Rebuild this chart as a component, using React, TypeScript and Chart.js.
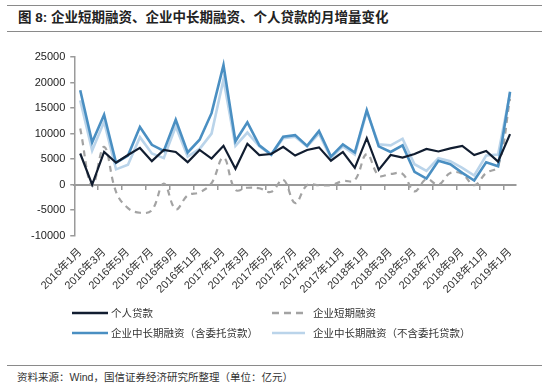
import React, { useEffect, useRef } from "react";
import { Chart, registerables } from "chart.js";

Chart.register(...registerables);

const monthLabels: string[] = [
  "2016年1月", "2016年2月", "2016年3月", "2016年4月", "2016年5月", "2016年6月",
  "2016年7月", "2016年8月", "2016年9月", "2016年10月", "2016年11月", "2016年12月",
  "2017年1月", "2017年2月", "2017年3月", "2017年4月", "2017年5月", "2017年6月",
  "2017年7月", "2017年8月", "2017年9月", "2017年10月", "2017年11月", "2017年12月",
  "2018年1月", "2018年2月", "2018年3月", "2018年4月", "2018年5月", "2018年6月",
  "2018年7月", "2018年8月", "2018年9月", "2018年10月", "2018年11月", "2018年12月",
  "2019年1月",
];

const personalLoans: number[] = [
  6100, 0, 6400, 4300, 5800, 7200, 4600, 6800, 6400, 4400, 6800, 5100,
  7600, 3100, 8000, 5800, 6000, 7400, 5700, 6800, 7300, 4700, 6400, 3300,
  9100, 2900, 5800, 5300, 6000, 7000, 6500, 7100, 7600, 5800, 6600, 4500,
  9900,
];

const shortTermCorp: number[] = [
  11000, -200, 7400, -1400, -4600, -5500, -5000, 200, -4800, -2100, -1500, 300,
  5300, -1000, -600, -700, -1400, 1000, -3600, -100, -100, -100, 700, 900,
  6000, 1800, 2100, 2100, -1300, 1100, 0, 2300, 2100, -100, 2300, 3600,
  16800,
];

const longTermInclEntrusted: number[] = [
  18500, 8300, 13700, 4300, 5700, 11300, 7800, 6600, 12700, 6300, 8800, 14000,
  23400, 8500, 12200, 7700, 5900, 9400, 9700, 7600, 10500, 5500, 7900, 6300,
  14600, 7500, 6400, 7700, 2500, 1200, 4700, 4000, 2300, 800, 4400, 3600,
  18200,
];

const longTermExclEntrusted: number[] = [
  16500, 6700, 12300, 3000, 3900, 9300, 6100, 5200, 11400, 5500, 7000, 10000,
  20600, 7600, 10200, 7500, 5800, 9100, 9400, 7500, 10000, 5200, 7500, 5900,
  14300, 7900, 7700, 9000, 4000, 2700, 5200, 4600, 3300, 1800, 5700, 5900,
  17900,
];

const yTicks: number[] = [-10000, -5000, 0, 5000, 10000, 15000, 20000, 25000];

const seriesNames = {
  personal: "个人贷款",
  shortTerm: "企业短期融资",
  longIncl: "企业中长期融资（含委托贷款）",
  longExcl: "企业中长期融资（不含委托贷款）",
};

const COLORS = {
  personal: "#111d30",
  shortTerm: "#a3a3a3",
  longIncl: "#4a8fc2",
  longExcl: "#bad4ea",
  axis: "#9a9a9a",
  text: "#333333",
  rule: "#8a8a8a",
};

const latinCjk = '"Liberation Sans", Arial, "Noto Sans CJK SC", sans-serif';
const cjk = '"Noto Sans CJK SC", "Liberation Sans", sans-serif';

function LegendItem(props: { x: number; y: number; color: string; dashed?: boolean; label: string; gap: number; len: number }) {
  const { x, y, color, dashed, label, gap, len } = props;
  return (
    <div style={{ position: "absolute", left: x, top: y - 8, height: 16, display: "flex", alignItems: "center", whiteSpace: "nowrap" }}>
      <svg width={len} height={4} style={{ display: "block" }}>
        <line x1={0} y1={2} x2={len} y2={2} stroke={color} strokeWidth={2.5} strokeDasharray={dashed ? "7,5" : undefined} />
      </svg>
      <span style={{ marginLeft: gap, fontFamily: cjk, fontSize: 10.5, color: COLORS.text, lineHeight: "16px" }}>{label}</span>
    </div>
  );
}

export default function App() {
  const canvasRef = useRef<HTMLCanvasElement | null>(null);

  useEffect(() => {
    const canvas = canvasRef.current;
    if (!canvas) return;
    const chart = new Chart(canvas, {
      type: "line",
      data: {
        labels: monthLabels,
        datasets: [
          {
            label: seriesNames.personal,
            data: personalLoans,
            borderColor: COLORS.personal,
            backgroundColor: COLORS.personal,
            borderWidth: 2.2,
            pointRadius: 0,
            tension: 0,
            order: 0,
            xAxisID: "x",
            yAxisID: "y",
          },
          {
            label: seriesNames.shortTerm,
            data: shortTermCorp,
            borderColor: COLORS.shortTerm,
            backgroundColor: COLORS.shortTerm,
            borderWidth: 2.2,
            borderDash: [6, 5],
            pointRadius: 0,
            tension: 0.4,
            order: 3,
            xAxisID: "x",
            yAxisID: "y",
          },
          {
            label: seriesNames.longIncl,
            data: longTermInclEntrusted,
            borderColor: COLORS.longIncl,
            backgroundColor: COLORS.longIncl,
            borderWidth: 2.6,
            pointRadius: 0,
            tension: 0,
            order: 1,
            xAxisID: "x",
            yAxisID: "y",
          },
          {
            label: seriesNames.longExcl,
            data: longTermExclEntrusted,
            borderColor: COLORS.longExcl,
            backgroundColor: COLORS.longExcl,
            borderWidth: 2.6,
            pointRadius: 0,
            tension: 0,
            order: 2,
            xAxisID: "x",
            yAxisID: "y",
          },
        ],
      },
      options: {
        responsive: false,
        animation: false,
        events: [],
        layout: { padding: { top: 57, left: 26, right: 34, bottom: 0 } },
        plugins: {
          legend: { display: false },
          tooltip: { enabled: false },
          title: { display: false },
        },
        scales: {
          x: {
            type: "category",
            position: "bottom",
            offset: true,
            grid: { display: false, drawTicks: false },
            border: { display: false },
            ticks: {
              autoSkip: false,
              maxRotation: 45,
              minRotation: 45,
              padding: 10,
              color: COLORS.text,
              font: { family: latinCjk, size: 11 },
              callback: (_v: any, i: number) => (i % 2 === 0 ? monthLabels[i] : ""),
            },
          },
          x2: {
            type: "category",
            position: { y: 0 },
            offset: true,
            grid: {
              offset: true,
              drawOnChartArea: false,
              drawTicks: true,
              tickLength: 4,
              lineWidth: 1.5,
              color: (ctx: any) => (ctx.index % 2 === 0 ? COLORS.axis : "rgba(0,0,0,0)"),
            },
            border: { display: true, color: COLORS.axis, width: 2 },
            ticks: { display: false },
          },
          y: {
            type: "linear",
            position: "left",
            min: -10000,
            max: 25000,
            afterBuildTicks: (scale: any) => {
              scale.ticks = yTicks.map((v) => ({ value: v }));
            },
            grid: {
              drawOnChartArea: false,
              drawTicks: true,
              tickLength: 4,
              color: COLORS.axis,
              lineWidth: 1.5,
            },
            border: { display: true, color: COLORS.axis, width: 1.5 },
            ticks: {
              padding: 5,
              color: "#222",
              font: { family: latinCjk, size: 11 },
              callback: (v: any) => String(v),
            },
          },
        },
      },
    });
    return () => chart.destroy();
  }, []);

  return (
    <div style={{ position: "absolute", left: 0, top: 0, width: 550, height: 385, background: "#ffffff", overflow: "hidden" }}>
      <div style={{ position: "absolute", left: 7, top: 5, width: 535, borderTop: `1.5px solid ${COLORS.rule}` }} />
      <div
        style={{
          position: "absolute",
          left: 18,
          top: 8.5,
          fontFamily: latinCjk,
          fontSize: 13.5,
          fontWeight: "bold",
          color: "#222",
          lineHeight: "17px",
          whiteSpace: "nowrap",
        }}
      >
        图 8: 企业短期融资、企业中长期融资、个人贷款的月增量变化
      </div>
      <div style={{ position: "absolute", left: 7, top: 30.5, width: 535, borderTop: `1.5px solid ${COLORS.rule}` }} />
      <canvas ref={canvasRef} width={550} height={306} style={{ position: "absolute", left: 0, top: 0, width: 550, height: 306 }} />
      <LegendItem x={72} y={313} color={COLORS.personal} label={seriesNames.personal} gap={3} len={36} />
      <LegendItem x={272} y={313} color={COLORS.shortTerm} dashed label={seriesNames.shortTerm} gap={8} len={33} />
      <LegendItem x={72} y={333} color={COLORS.longIncl} label={seriesNames.longIncl} gap={3} len={36} />
      <LegendItem x={272} y={333} color={COLORS.longExcl} label={seriesNames.longExcl} gap={8} len={33} />
      <div style={{ position: "absolute", left: 7, top: 365, width: 535, borderTop: `1.5px solid ${COLORS.rule}` }} />
      <div
        style={{
          position: "absolute",
          left: 17,
          top: 369,
          fontFamily: latinCjk,
          fontSize: 10.5,
          color: "#333",
          lineHeight: "16px",
          whiteSpace: "nowrap",
        }}
      >
        资料来源：Wind，国信证券经济研究所整理（单位：亿元）
      </div>
    </div>
  );
}
